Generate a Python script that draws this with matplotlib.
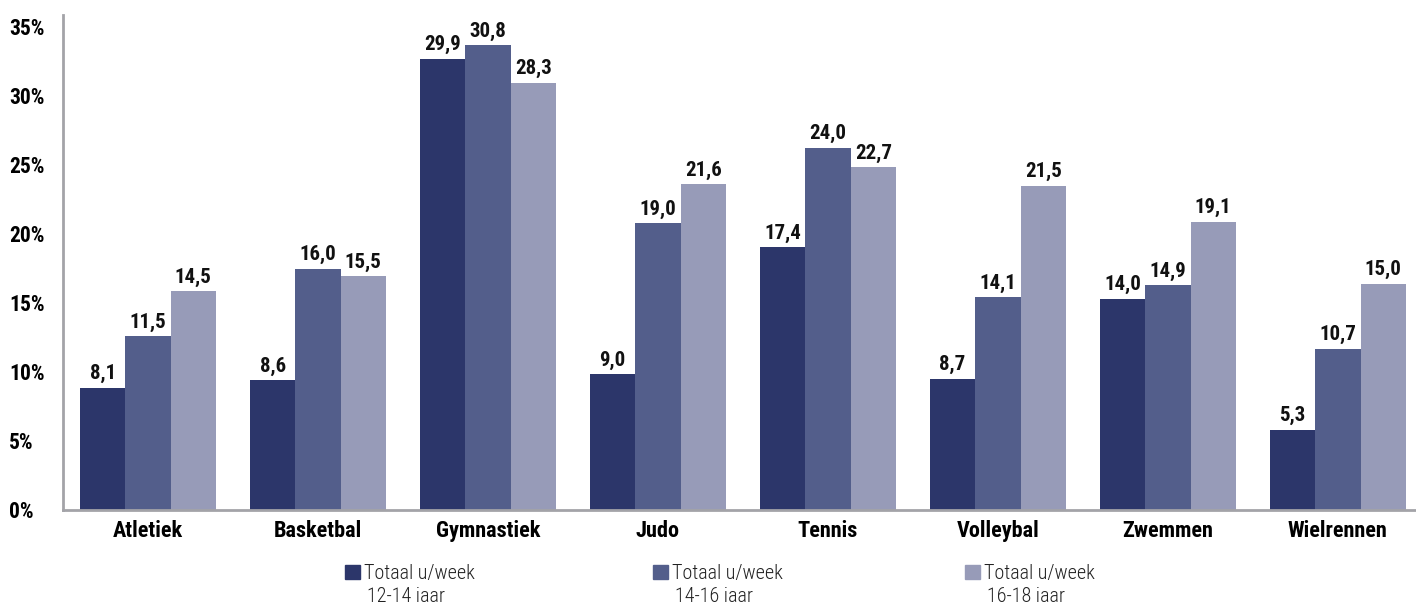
import matplotlib.pyplot as plt
import matplotlib.font_manager as fm
from matplotlib.patches import Patch
import numpy as np

# data
sports = ['Atletiek', 'Basketbal', 'Gymnastiek', 'Judo', 'Tennis', 'Volleybal', 'Zwemmen', 'Wielrennen']
u_12_14 = [8.1, 8.6, 29.9, 9.0, 17.4, 8.7, 14.0, 5.3]
u_14_16 = [11.5, 16.0, 30.8, 19.0, 24.0, 14.1, 14.9, 10.7]
u_16_18 = [14.5, 15.5, 28.3, 21.6, 22.7, 21.5, 19.1, 15.0]
legend_top = ['Totaal u/week', 'Totaal u/week', 'Totaal u/week']
legend_bottom = ['12-14 jaar', '14-16 jaar', '16-18 jaar']
tick_pct = [0, 5, 10, 15, 20, 25, 30, 35]

# colours
colors = ['#2c366a', '#535e8b', '#979bb8']
spine_color = '#a3a3a8'

names = {f.name for f in fm.fontManager.ttflist}
font = 'DejaVu Sans'
for cand in ['Roboto Condensed', 'Liberation Sans Narrow', 'Liberation Sans']:
    if cand in names:
        font = cand
        break
plt.rcParams['font.family'] = font

# in the original the percent axis does not line up with the bar values
axis_scale = 1.092

fig = plt.figure(figsize=(14.16, 6.02), dpi=100)
ax = fig.add_axes([63 / 1416, 92 / 602, 1353 / 1416, 495 / 602])

x = np.arange(len(sports))
w = 0.267
for i, vals in enumerate([u_12_14, u_14_16, u_16_18]):
    pos = x + (i - 1) * w
    ax.bar(pos, vals, width=w, color=colors[i], zorder=2)
    for p, v in zip(pos, vals):
        ax.text(p, v + 0.3, f'{v:.1f}'.replace('.', ','), ha='center', va='bottom',
                fontsize=15, fontweight='bold', color='#111111')

ax.set_xlim(-0.5, 7.46)
ax.set_ylim(0, 495 / 15.09)
ax.set_yticks([t / axis_scale for t in tick_pct])
ax.set_yticklabels([f'{t}%' for t in tick_pct], fontsize=15.5, fontweight='bold')
ax.set_xticks(x)
ax.set_xticklabels(sports, fontsize=16, fontweight='bold')
ax.tick_params(length=0, pad=7)
ax.tick_params(axis='y', pad=39)
for lab in ax.get_yticklabels():
    lab.set_horizontalalignment('left')
for s in ['top', 'right']:
    ax.spines[s].set_visible(False)
for s in ['left', 'bottom']:
    ax.spines[s].set_color(spine_color)
    ax.spines[s].set_linewidth(2)

# legend, three separate entries as in the original
leg_x = [345, 653, 965]
for i in range(3):
    leg = fig.legend(handles=[Patch(color=colors[i], label=legend_top[i])],
                     loc='upper left', bbox_to_anchor=(leg_x[i] / 1416, 1 - 564 / 602),
                     frameon=False, handlelength=0.75, handleheight=0.75,
                     handletextpad=0.2, borderaxespad=0, borderpad=0,
                     prop={'size': 14.5, 'weight': 'light'})
    for t in leg.get_texts():
        t.set_color('#222222')
    fig.text((leg_x[i] + 22) / 1416, 1 - 596 / 602, legend_bottom[i], ha='left', va='center',
             fontsize=14.5, fontweight='light', color='#222222')

fig.savefig('out.png', dpi=100)
